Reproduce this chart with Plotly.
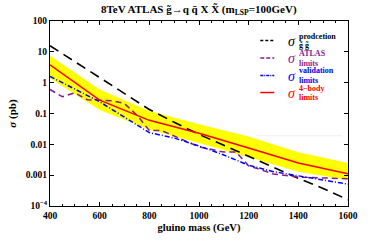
import plotly.graph_objects as go

# ---- data ----
prod_mass = [400, 500, 600, 700, 800, 900, 1000, 1100, 1200, 1300, 1400, 1500, 1600]
prod_xsec = [15.8, 4.8, 1.45, 0.44, 0.135, 0.052, 0.021, 0.0093, 0.004, 0.0018, 0.00079, 0.00037, 0.00016]

atlas_mass = [400, 450, 500, 550, 650, 700, 750, 800, 850, 900, 1000, 1100, 1150, 1200, 1300, 1400, 1600]
atlas_lim = [0.6, 0.35, 0.47, 0.28, 0.26, 0.21, 0.089, 0.028, 0.028, 0.019, 0.0083, 0.0056, 0.0056, 0.002, 0.0011, 0.00087, 0.00076]

valid_mass = [400, 600, 800, 900, 1000, 1100, 1200, 1300, 1400, 1500, 1600]
valid_lim = [1.6, 0.24, 0.024, 0.016, 0.0089, 0.0045, 0.0021, 0.0013, 0.00095, 0.0007, 0.00051]

body_mass = [400, 600, 800, 1000, 1200, 1400, 1600]
body_lim = [3.8, 0.27, 0.060, 0.023, 0.0076, 0.0025, 0.0011]
body_up = [7.5, 0.6, 0.12, 0.045, 0.018, 0.0055, 0.0025]
body_lo = [1.4, 0.13, 0.03, 0.011, 0.0038, 0.0013, 0.0007]

ytick_vals = [100, 10, 1, 0.1, 0.01, 0.001, 0.0001]
ytick_text = ["100", "10", "1", "0.1", "0.01", "0.001", "10<sup>\u22124</sup>"]
xtick_vals = [400, 600, 800, 1000, 1200, 1400, 1600]

PURPLE = "#8b1a8b"
BLUE = "#0000ff"
RED = "#ff0000"
FONT = "Liberation Serif"
BLACK_DASH = "10px,6px"

fig = go.Figure()
fig.add_trace(go.Scatter(x=body_mass, y=body_lo, mode="lines", line=dict(width=0),
                         showlegend=False, hoverinfo="skip"))
fig.add_trace(go.Scatter(x=body_mass, y=body_up, mode="lines", line=dict(width=0),
                         fill="tonexty", fillcolor="#ffff00", showlegend=False, hoverinfo="skip"))
fig.add_trace(go.Scatter(x=prod_mass, y=prod_xsec, mode="lines",
                         line=dict(color="black", width=1.6, dash=BLACK_DASH), showlegend=False))
fig.add_trace(go.Scatter(x=atlas_mass, y=atlas_lim, mode="lines",
                         line=dict(color=PURPLE, width=1.5, dash="6px,4px"), showlegend=False))
fig.add_trace(go.Scatter(x=valid_mass, y=valid_lim, mode="lines",
                         line=dict(color=BLUE, width=1.5, dash="5px,2px,1px,2px"), showlegend=False))
fig.add_trace(go.Scatter(x=body_mass, y=body_lim, mode="lines",
                         line=dict(color=RED, width=1.5), showlegend=False))

L, R, T, B = 49, 348, 21, 208
def px(x):
    return (x - L) / (R - L)
def py(y):
    return (B - y) / (B - T)

shapes = []
annotations = []
legend = [
    ("black", "black", "3px,2px", "prodcetion", "g\u0303 g\u0303", 40.7),
    (PURPLE, PURPLE, "4px,2px", "ATLAS", "limits", 58.3),
    (BLUE, BLUE, "3px,1px,1px,1px", "validation", "limits", 76.0),
    (RED, RED, "solid", "4\u2212body", "limits", 93.3),
]
for lc, tc, dash, sup, sub, yy in legend:
    shapes.append(dict(type="line", xref="paper", yref="paper",
                       x0=px(260), x1=px(274), y0=py(yy), y1=py(yy),
                       line=dict(color=lc, width=1.5, dash=dash)))
    annotations.append(dict(x=px(292), y=py(yy + 1), xref="paper", yref="paper",
                            text="<i>\u03c3</i>", showarrow=False, borderpad=0,
                            xanchor="center", yanchor="middle",
                            font=dict(family=FONT, size=14, color=tc)))
    annotations.append(dict(x=px(297.5), y=py(yy - 4.5), xref="paper", yref="paper",
                            text="<b>" + sup + "</b>", showarrow=False, xanchor="left",
                            yanchor="middle", borderpad=0,
                            font=dict(family=FONT, size=8, color=tc)))
    annotations.append(dict(x=px(297.5), y=py(yy + 5.5), xref="paper", yref="paper",
                            text="<b>" + sub + "</b>", showarrow=False, xanchor="left",
                            yanchor="middle", borderpad=0,
                            font=dict(family=FONT, size=8, color=tc)))

shapes.append(dict(type="line", xref="paper", yref="paper", x0=px(256), x1=px(342),
                   y0=py(137), y1=py(137), line=dict(color="#efefef", width=1)))

annotations.append(dict(x=0.5, y=py(10), xref="paper", yref="paper",
                        xanchor="center", yanchor="middle",
                        text="<b>8TeV ATLAS g\u0303\u2192q q\u0304 X X\u0303 (m<sub>LSP</sub>=100GeV)</b>",
                        showarrow=False, font=dict(family=FONT, size=11, color="black")))

axis_common = dict(showline=True, linecolor="black", linewidth=1.2, mirror="allticks",
                   ticks="inside", tickcolor="black", showgrid=False, zeroline=False,
                   tickfont=dict(family=FONT, size=9.5, color="black"))

fig.update_layout(
    width=390, height=244,
    margin=dict(l=L, r=390 - R, t=T, b=244 - B),
    plot_bgcolor="white", paper_bgcolor="white",
    shapes=shapes, annotations=annotations,
    xaxis=dict(range=[400, 1600], tickvals=xtick_vals,
               ticktext=["<b>%d</b>" % v for v in xtick_vals], ticklen=4,
               minor=dict(dtick=50, tick0=400, ticks="inside", ticklen=2, tickcolor="black"),
               title=dict(text="<b>gluino mass (GeV)</b>", standoff=4,
                          font=dict(family=FONT, size=10.5, color="black")),
               **axis_common),
    yaxis=dict(type="log", range=[-4, 2], tickvals=ytick_vals,
               ticktext=["<b>%s</b>" % t for t in ytick_text], ticklen=4,
               title=dict(text="<b><i>\u03c3</i> (pb)</b>", standoff=6,
                          font=dict(family=FONT, size=11, color="black")),
               **axis_common),
)

fig.write_html("out.html", config={"displayModeBar": False},
               post_script="document.body.style.margin='0';")
